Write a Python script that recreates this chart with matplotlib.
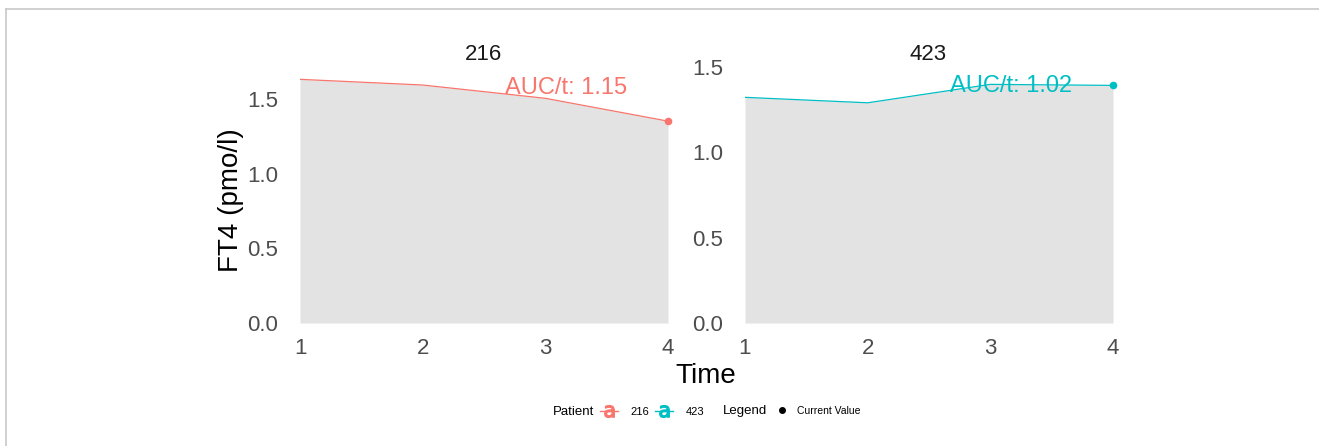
import matplotlib.pyplot as plt
from matplotlib.lines import Line2D

plt.rcParams['font.family'] = ['Liberation Sans', 'DejaVu Sans']

# values
time = [1, 2, 3, 4]
patients = ['216', '423']
ft4_216 = [1.632, 1.594, 1.505, 1.352]
ft4_423 = [1.322, 1.290, 1.398, 1.392]
auc_labels = ['AUC/t: 1.15', 'AUC/t: 1.02']
colors = ['#F8766D', '#00BFC4']
yticks = [0.0, 0.5, 1.0, 1.5]

fig = plt.figure(figsize=(13.19, 4.46), dpi=100)
W, H = 1319, 446

# thin grey frame on top and left
fig.add_artist(Line2D([6 / W, 1], [1 - 9 / H, 1 - 9 / H], color='#c8c8c8', lw=1.2))
fig.add_artist(Line2D([6 / W, 6 / W], [0, 1 - 9 / H], color='#c8c8c8', lw=1.2))

# panel: left pixel, values, y top (free y scales), AUC label position
panels = [
    (300, ft4_216, 263 / 149.3, (3.17, 1.575)),
    (745, ft4_423, 263 / 170.7, (3.17, 1.39)),
]
for i, (x0, vals, ytop, auc_pos) in enumerate(panels):
    ax = fig.add_axes([x0 / W, 1 - 323 / H, 368 / W, 263 / H])
    ax.fill_between(time, 0, vals, color='#e3e3e3', lw=0)
    ax.plot(time, vals, color=colors[i], lw=0.9)
    ax.plot(time[-1], vals[-1], 'o', color=colors[i], ms=4.5, clip_on=False)
    ax.set_xticks(time)
    ax.set_yticks(yticks)
    ax.set_yticklabels([f'{v:.1f}' for v in yticks])
    ax.set_xlim(1, 4)
    ax.set_ylim(0, ytop)
    ax.tick_params(axis='y', length=0, labelsize=16, colors='#4d4d4d', pad=16)
    ax.tick_params(axis='x', length=0, labelsize=16, colors='#4d4d4d', pad=11)
    for s in ax.spines.values():
        s.set_visible(False)
    ax.text(auc_pos[0], auc_pos[1], auc_labels[i], ha='center', va='center',
            fontsize=17, color=colors[i], clip_on=False)

fig.text(484 / W, 1 - 55 / H, patients[0], ha='center', va='center', fontsize=16, color='#1a1a1a')
fig.text(928 / W, 1 - 55 / H, patients[1], ha='center', va='center', fontsize=16, color='#1a1a1a')

fig.text(231 / W, 1 - 200 / H, 'FT4 (pmo/l)', rotation=90, ha='center', va='center', fontsize=20)
fig.text(706 / W, 1 - 376 / H, 'Time', ha='center', va='center', fontsize=20)

# legends at the bottom
fig.text(553 / W, 1 - 412 / H, 'Patient', ha='left', va='center', fontsize=9.5)
h1 = [Line2D([], [], color=c, marker=r'$\mathrm{a}$', ms=8.5, lw=1) for c in colors]
fig.legend(h1, patients, loc='center left', bbox_to_anchor=(600 / W, 1 - 412 / H),
           ncol=2, frameon=False, fontsize=8, handlelength=1.6,
           handletextpad=1.1, columnspacing=0.6, numpoints=1, borderpad=0, borderaxespad=0)

fig.text(723 / W, 1 - 411 / H, 'Legend', ha='left', va='center', fontsize=9.5)
h2 = [Line2D([], [], color='black', marker='o', ms=4, lw=0)]
fig.legend(h2, ['Current Value'], loc='center left', bbox_to_anchor=(774 / W, 1 - 411 / H),
           frameon=False, fontsize=7.5, handlelength=1.5, handletextpad=0.7,
           numpoints=1, borderpad=0, borderaxespad=0)

fig.savefig('out.png', dpi=100)
